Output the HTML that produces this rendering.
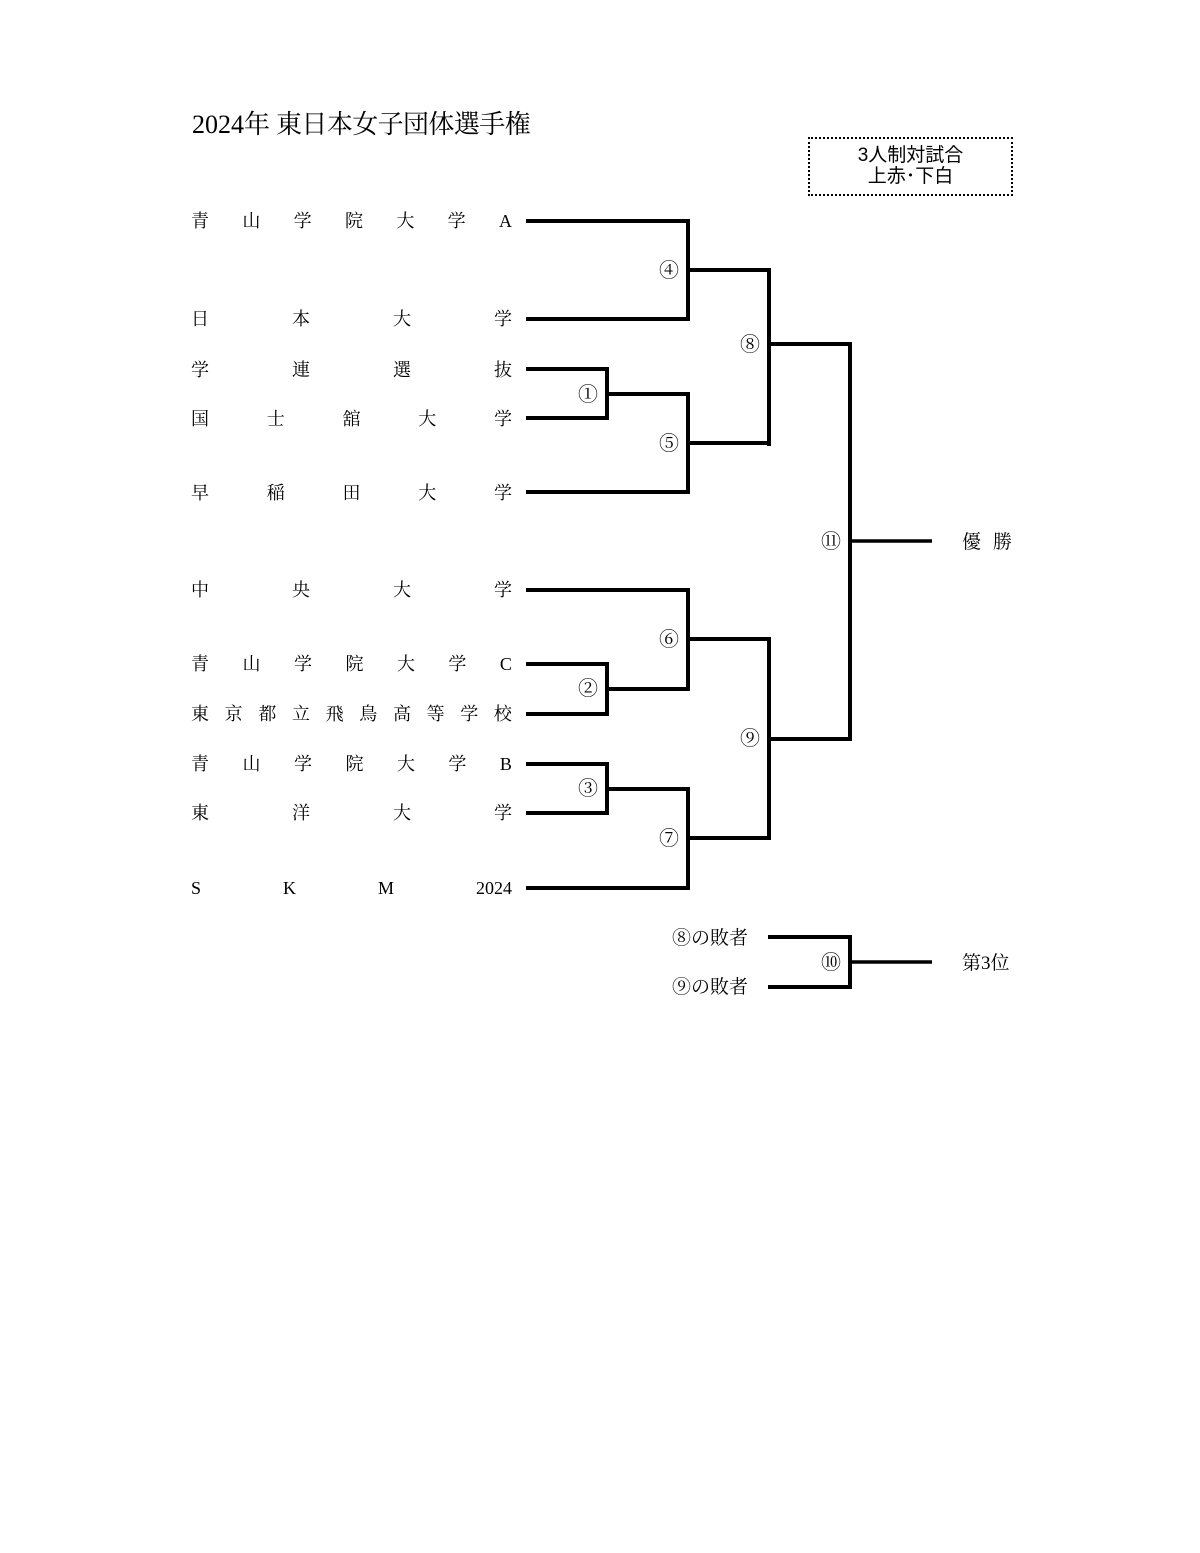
<!DOCTYPE html>
<html>
<head>
<meta charset="utf-8">
<style>
  html, body { margin:0; padding:0; background:#fff; }
  body { width:1200px; height:1553px; position:relative; overflow:hidden;
         font-family:"Liberation Serif","Noto Serif CJK SC",serif; color:#000; }
  .abs { position:absolute; white-space:nowrap; }
  .name { position:absolute; left:191px; width:321px; height:18px; display:flex;
          justify-content:space-between; font-size:18px; line-height:18px; }
  .cn { position:absolute; width:30px; text-align:right; font-size:20px; line-height:20px; height:20px; }
  svg { position:absolute; left:0; top:0; }
</style>
</head>
<body>
<svg width="1200" height="1553" viewBox="0 0 1200 1553">
  <g fill="none" stroke="#000" stroke-width="4" stroke-linejoin="miter" stroke-linecap="butt">
    <path d="M526 221 H688 V319 H526"/>
    <path d="M688 270 H769"/>
    <path d="M526 369 H607 V418 H526"/>
    <path d="M607 394 H688 V492 H526"/>
    <path d="M688 443 H769"/>
    <path d="M769 268 V446"/>
    <path d="M769 344 H850"/>
    <path d="M850 342 V741"/>
    <path d="M526 590 H688 V689 H607"/>
    <path d="M526 664 H607 V714 H526"/>
    <path d="M688 639 H769"/>
    <path d="M526 764 H607 V813 H526"/>
    <path d="M607 789 H688 V888 H526"/>
    <path d="M688 838 H769"/>
    <path d="M769 637 V840"/>
    <path d="M769 739 H850"/>
    <path d="M768 937 H850 V987 H768"/>
  </g>
  <g stroke="#000" stroke-width="3.5">
    <path d="M850 541 H932"/>
    <path d="M850 962 H932"/>
  </g>
</svg>

<!-- title -->
<div class="abs" style="left:192px;top:112px;font-size:26px;line-height:26px;">2024<span style="letter-spacing:-0.5px;">年</span> <span style="letter-spacing:-0.6px;">東日本女子団体選手権</span></div>

<!-- box -->
<div class="abs" style="left:808px;top:137px;width:201px;height:55px;border:2px dotted #000;font-family:'Liberation Sans','Noto Sans CJK JP',sans-serif;font-size:19px;line-height:21px;text-align:center;">
  <div style="margin-top:6px;">3人制対試合</div>
  <div>上赤･下白</div>
</div>

<!-- names -->
<div class="name" style="top:212px;"><span>青</span><span>山</span><span>学</span><span>院</span><span>大</span><span>学</span><span>A</span></div>
<div class="name" style="top:310px;"><span>日</span><span>本</span><span>大</span><span>学</span></div>
<div class="name" style="top:361px;"><span>学</span><span>連</span><span>選</span><span>抜</span></div>
<div class="name" style="top:410px;"><span>国</span><span>士</span><span>舘</span><span>大</span><span>学</span></div>
<div class="name" style="top:484px;"><span>早</span><span>稲</span><span>田</span><span>大</span><span>学</span></div>
<div class="name" style="top:581px;"><span>中</span><span>央</span><span>大</span><span>学</span></div>
<div class="name" style="top:655px;"><span>青</span><span>山</span><span>学</span><span>院</span><span>大</span><span>学</span><span>C</span></div>
<div class="name" style="top:705px;"><span>東</span><span>京</span><span>都</span><span>立</span><span>飛</span><span>鳥</span><span>高</span><span>等</span><span>学</span><span>校</span></div>
<div class="name" style="top:755px;"><span>青</span><span>山</span><span>学</span><span>院</span><span>大</span><span>学</span><span>B</span></div>
<div class="name" style="top:804px;"><span>東</span><span>洋</span><span>大</span><span>学</span></div>
<div class="name" style="top:879px;"><span>S</span><span>K</span><span>M</span><span>2024</span></div>

<!-- circled match numbers -->
<div class="cn" style="left:568px;top:385px;">①</div>
<div class="cn" style="left:568px;top:679px;">②</div>
<div class="cn" style="left:568px;top:779px;">③</div>
<div class="cn" style="left:649px;top:261px;">④</div>
<div class="cn" style="left:649px;top:434px;">⑤</div>
<div class="cn" style="left:649px;top:630px;">⑥</div>
<div class="cn" style="left:649px;top:829px;">⑦</div>
<div class="cn" style="left:730px;top:335px;">⑧</div>
<div class="cn" style="left:730px;top:729px;">⑨</div>
<div class="cn" style="left:811px;top:953px;">⑩</div>
<div class="cn" style="left:811px;top:532px;">⑪</div>

<!-- results -->
<div class="abs" style="left:962px;top:533px;font-size:19px;line-height:20px;letter-spacing:12px;">優勝</div>
<div class="abs" style="left:962px;top:954px;font-size:19px;line-height:20px;">第3位</div>
<div class="abs" style="left:600px;width:148px;text-align:right;top:929px;font-size:19px;line-height:20px;">⑧の敗者</div>
<div class="abs" style="left:600px;width:148px;text-align:right;top:978px;font-size:19px;line-height:20px;">⑨の敗者</div>
</body>
</html>
